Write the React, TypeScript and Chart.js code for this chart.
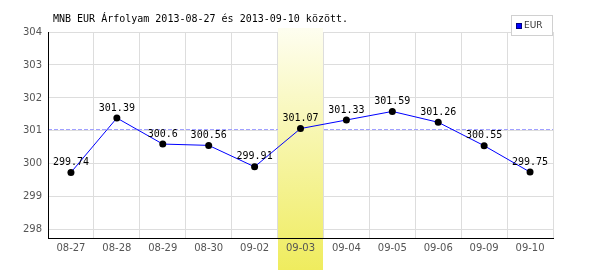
import React, { useEffect, useRef } from "react";
import { Chart, registerables } from "chart.js";
Chart.register(...registerables);

const categories = ["08-27", "08-28", "08-29", "08-30", "09-02", "09-03", "09-04", "09-05", "09-06", "09-09", "09-10"];
const eurValues = [299.74, 301.39, 300.6, 300.56, 299.91, 301.07, 301.33, 301.59, 301.26, 300.55, 299.75];
const yTicks = [298, 299, 300, 301, 302, 303, 304];
const highlightIndex = 5;
const refValue = 301.07;
const titleText = "MNB EUR Árfolyam 2013-08-27 és 2013-09-10 között.";
const seriesName = "EUR";

const mono = "'DejaVu Sans Mono', monospace";
const sans = "'DejaVu Sans', sans-serif";

const decorPlugin = {
  id: "decor",
  beforeDraw(chart: any) {
    const { ctx } = chart;
    ctx.save();
    ctx.fillStyle = "#ffffff";
    ctx.fillRect(0, 0, chart.width, chart.height);
    ctx.restore();
  },
  beforeDatasetsDraw(chart: any) {
    const { ctx, chartArea, scales } = chart;
    // reference dashed line
    const y = Math.round(scales.y.getPixelForValue(refValue)) + 0.5;
    ctx.save();
    ctx.strokeStyle = "#a0a0ff";
    ctx.lineWidth = 1;
    ctx.setLineDash([4, 2]);
    ctx.beginPath();
    ctx.moveTo(chartArea.left, y);
    ctx.lineTo(chartArea.right, y);
    ctx.stroke();
    ctx.restore();
    // highlight band
    const xs = scales.x;
    const half = (chartArea.right - chartArea.left) / categories.length / 2;
    const cx = xs.getPixelForValue(highlightIndex);
    const x0 = Math.floor(cx - half) + 1;
    const x1 = Math.floor(cx + half);
    const top = chartArea.top - 4;
    const bottom = chart.height;
    ctx.save();
    const g = ctx.createLinearGradient(0, top, 0, bottom);
    g.addColorStop(0, "#fefef0");
    g.addColorStop(1, "#efec5e");
    ctx.fillStyle = g;
    ctx.fillRect(x0, top, x1 - x0, bottom - top);
    ctx.restore();
  },
  afterDatasetsDraw(chart: any) {
    const { ctx } = chart;
    const meta = chart.getDatasetMeta(0);
    ctx.save();
    ctx.font = `10px ${mono}`;
    ctx.fillStyle = "#000";
    ctx.textAlign = "center";
    ctx.textBaseline = "middle";
    meta.data.forEach((pt: any, i: number) => {
      ctx.fillText(String(eurValues[i]), pt.x, pt.y - 10);
    });
    ctx.restore();
  },
  afterDraw(chart: any) {
    const { ctx } = chart;
    ctx.save();
    ctx.font = `10px ${mono}`;
    ctx.fillStyle = "#000";
    ctx.textAlign = "left";
    ctx.textBaseline = "middle";
    ctx.fillText(titleText, 53, 19);
    // legend
    ctx.fillStyle = "#fff";
    ctx.fillRect(511, 15, 41, 20);
    ctx.strokeStyle = "#d0d0d0";
    ctx.lineWidth = 1;
    ctx.strokeRect(511.5, 15.5, 41, 20);
    ctx.fillStyle = "#0000ff";
    ctx.fillRect(516, 23, 6, 6);
    ctx.strokeStyle = "#000080";
    ctx.strokeRect(516.5, 23.5, 5, 5);
    ctx.fillStyle = "#333";
    ctx.font = `9px ${sans}`;
    ctx.fillText(seriesName, 524, 26);
    ctx.restore();
  },
};

export default function App() {
  const ref = useRef<HTMLCanvasElement>(null);
  useEffect(() => {
    document.body.style.margin = "0";
    const chart = new Chart(ref.current as HTMLCanvasElement, {
      type: "line",
      data: {
        labels: categories,
        datasets: [
          {
            label: seriesName,
            data: eurValues,
            borderColor: "#0000ff",
            borderWidth: 1,
            backgroundColor: "#000",
            pointBackgroundColor: "#000",
            pointBorderColor: "#000",
            pointRadius: 3.5,
            pointBorderWidth: 0,
            tension: 0,
            fill: false,
          },
        ],
      },
      options: {
        responsive: false,
        animation: false,
        events: [],
        layout: { padding: { top: 32, right: 47, left: 0, bottom: 0 } },
        plugins: {
          legend: { display: false },
          title: { display: false },
          tooltip: { enabled: false },
        },
        scales: {
          x: {
            type: "category",
            offset: true,
            afterFit: (s: any) => {
              s.height = 32;
            },
            grid: { offset: true, color: "#dddddd", drawTicks: false, lineWidth: 1 },
            border: { color: "#000", width: 1, z: 1 },
            ticks: { z: 1, color: "#555", font: { family: sans, size: 10 }, padding: 4, maxRotation: 0, autoSkip: false },
          },
          y: {
            type: "linear",
            min: 297.75,
            max: 304,
            afterFit: (s: any) => {
              s.width = 48;
            },
            afterBuildTicks: (s: any) => {
              s.ticks = yTicks.map((v) => ({ value: v }));
            },
            grid: { color: "#dddddd", drawTicks: false, lineWidth: 1 },
            border: { color: "#000", width: 1, z: 1 },
            ticks: { color: "#555", font: { family: sans, size: 10 }, padding: 6 },
          },
        },
      },
      plugins: [decorPlugin],
    } as any);
    return () => chart.destroy();
  }, []);
  return <canvas ref={ref} width={600} height={270} style={{ display: "block" }} />;
}
